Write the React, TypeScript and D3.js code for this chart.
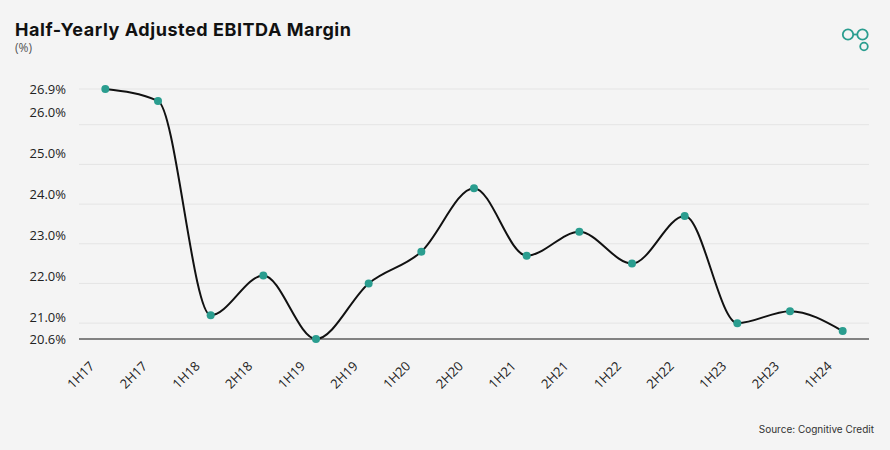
import React from "react";
import * as d3 from "d3";

const categories = ["1H17","2H17","1H18","2H18","1H19","2H19","1H20","2H20","1H21","2H21","1H22","2H22","1H23","2H23","1H24"];
const margins = [26.9, 26.6, 21.2, 22.2, 20.6, 22.0, 22.8, 24.4, 22.7, 23.3, 22.5, 23.7, 21.0, 21.3, 20.8];
const yTicks = [20.6, 21, 22, 23, 24, 25, 26, 26.9];

const W = 890, H = 450;
const left = 79, right = 869, top = 89, bottom = 339;
const TEAL = "#2a9d8f";

export default function App() {
  const x = d3.scalePoint<string>().domain(categories).range([left, right]).padding(0.5);
  const y = d3.scaleLinear().domain([20.6, 26.9]).range([bottom, top]);
  const yLab = d3.scaleLinear().domain([21, 26]).range([317, 112]);
  const labelY = (v: number) => (v === 20.6 || v === 26.9 ? y(v) : yLab(v));
  const line = d3.line<number>()
    .x((_, i) => x(categories[i]) as number)
    .y((d) => y(d))
    .curve(d3.curveMonotoneX);

  return (
    <svg width={W} height={H} style={{ position: "absolute", left: 0, top: 0 }}>
      <rect width={W} height={H} fill="#f4f4f4" />
      <text x={15} y={36} fontFamily="Inter, 'Open Sans', sans-serif" fontWeight={700} fontSize={18} letterSpacing={0.55} fill="#111">
        Half-Yearly Adjusted EBITDA Margin
      </text>
      <text x={15} y={52} fontFamily="'Open Sans', sans-serif" fontSize={12} fill="#555">(%)</text>

      {/* logo */}
      <g fill="none" stroke={TEAL} strokeWidth={1.8}>
        <circle cx={848} cy={34.5} r={5.2} />
        <circle cx={862.5} cy={34.5} r={5.2} />
        <line x1={853} y1={34.5} x2={857.5} y2={34.5} />
        <circle cx={864} cy={46.5} r={3.8} />
      </g>

      {yTicks.filter((v) => v !== 20.6).map((v) => (
        <line key={"g" + v} x1={left} x2={right} y1={y(v)} y2={y(v)} stroke="#e4e4e4" strokeWidth={1} />
      ))}
      <line x1={left} x2={right} y1={bottom} y2={bottom} stroke="#111" strokeWidth={1.2} />

      {yTicks.map((v) => (
        <text key={"t" + v} x={66} y={labelY(v)} dy="0.35em" textAnchor="end"
          fontFamily="'Open Sans', sans-serif" fontSize={13} fill="#222">
          {v.toFixed(1)}%
        </text>
      ))}

      {categories.map((c) => (
        <text key={c} transform={`translate(${(x(c) as number) - 10},${367}) rotate(-45)`} textAnchor="end"
          fontFamily="'Open Sans', sans-serif" fontSize={13} fill="#222">
          {c}
        </text>
      ))}

      <path d={line(margins) || ""} fill="none" stroke="#111" strokeWidth={2} />
      {margins.map((v, i) => (
        <circle key={i} cx={x(categories[i]) as number} cy={y(v)} r={4} fill={TEAL} />
      ))}

      <text x={874} y={433} textAnchor="end" fontFamily="Inter, 'Open Sans', sans-serif" fontSize={10} fill="#333">
        Source: Cognitive Credit
      </text>
    </svg>
  );
}
